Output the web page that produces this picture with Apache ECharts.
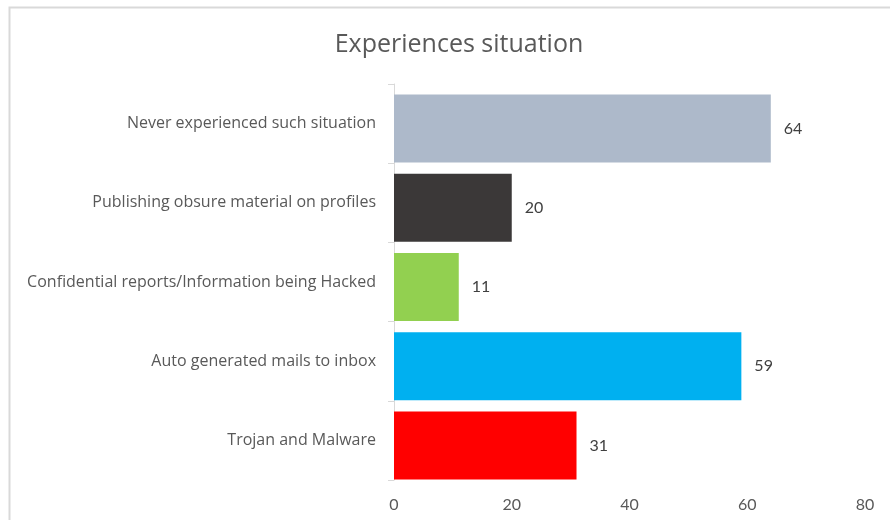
<!DOCTYPE html>
<html>
<head>
<meta charset="utf-8">
<script src="https://cdn.jsdelivr.net/npm/echarts@6/dist/echarts.min.js"></script>
<style>
  html, body { margin: 0; padding: 0; background: #fff; }
  #chart { width: 890px; height: 520px; }
</style>
</head>
<body>
<div id="chart"></div>
<script>
// Survey: which of these situations respondents have experienced
const categories = [
  'Never experienced such situation',
  'Publishing obsure material on profiles',
  'Confidential reports/Information being Hacked',
  'Auto generated mails to inbox',
  'Trojan and Malware'
];
const values = [64, 20, 11, 59, 31];
const barColors = ['#ADB9CA', '#3B3838', '#92D050', '#00B0F0', '#FF0000'];
const xTicks = [0, 20, 40, 60, 80];

const LABEL_FONT = '"Open Sans", Lato, sans-serif';
const NUM_FONT = 'Lato, "Open Sans", sans-serif';
const TEXT = '#595959';

const chart = echarts.init(document.getElementById('chart'), null, { renderer: 'canvas' });

// Category axis listed bottom-up so the first item sits at the top
const catsRev = categories.slice().reverse();
const valsRev = values.slice().reverse();
const colsRev = barColors.slice().reverse();

chart.setOption({
  backgroundColor: '#fff',
  animation: false,
  title: {
    text: 'Experiences situation',
    left: 454, top: 27, textAlign: 'center',
    textStyle: { fontFamily: LABEL_FONT, fontSize: 25, fontWeight: 'normal', color: TEXT }
  },
  graphic: [{
    type: 'rect',
    shape: { x: 9.5, y: 7.5, width: 900, height: 600 },
    style: { fill: 'none', stroke: '#D9D9D9', lineWidth: 2 },
    silent: true
  }],
  grid: [
    { left: 394, right: 25, top: 84, height: 396 },
    { left: 394, right: 25, top: 89, height: 396 }
  ],
  xAxis: [
    { gridIndex: 0, type: 'value', min: 0, max: 80, interval: 20, show: false },
    {
      gridIndex: 1, type: 'value', min: xTicks[0], max: xTicks[xTicks.length - 1], interval: 20,
      axisLine: { show: false }, axisTick: { show: false }, splitLine: { show: false },
      axisLabel: { fontFamily: NUM_FONT, fontSize: 16, color: TEXT, margin: 12 }
    }
  ],
  yAxis: [
    {
      gridIndex: 0, type: 'category', data: catsRev,
      axisLine: { show: true, lineStyle: { color: '#D9D9D9', width: 1 } },
      axisTick: { show: true, length: 6, lineStyle: { color: '#D9D9D9' } },
      axisLabel: { fontFamily: LABEL_FONT, fontSize: 16, color: TEXT, margin: 18 }
    },
    {
      gridIndex: 1, type: 'category', data: catsRev, show: false
    }
  ],
  series: [{
    type: 'bar',
    xAxisIndex: 1, yAxisIndex: 1,
    barWidth: 68,
    data: valsRev.map((v, i) => ({ value: v, itemStyle: { color: colsRev[i] } })),
    label: {
      show: true, position: 'right', distance: 13,
      fontFamily: NUM_FONT, fontSize: 16, color: '#404040'
    }
  }]
});
</script>
</body>
</html>
